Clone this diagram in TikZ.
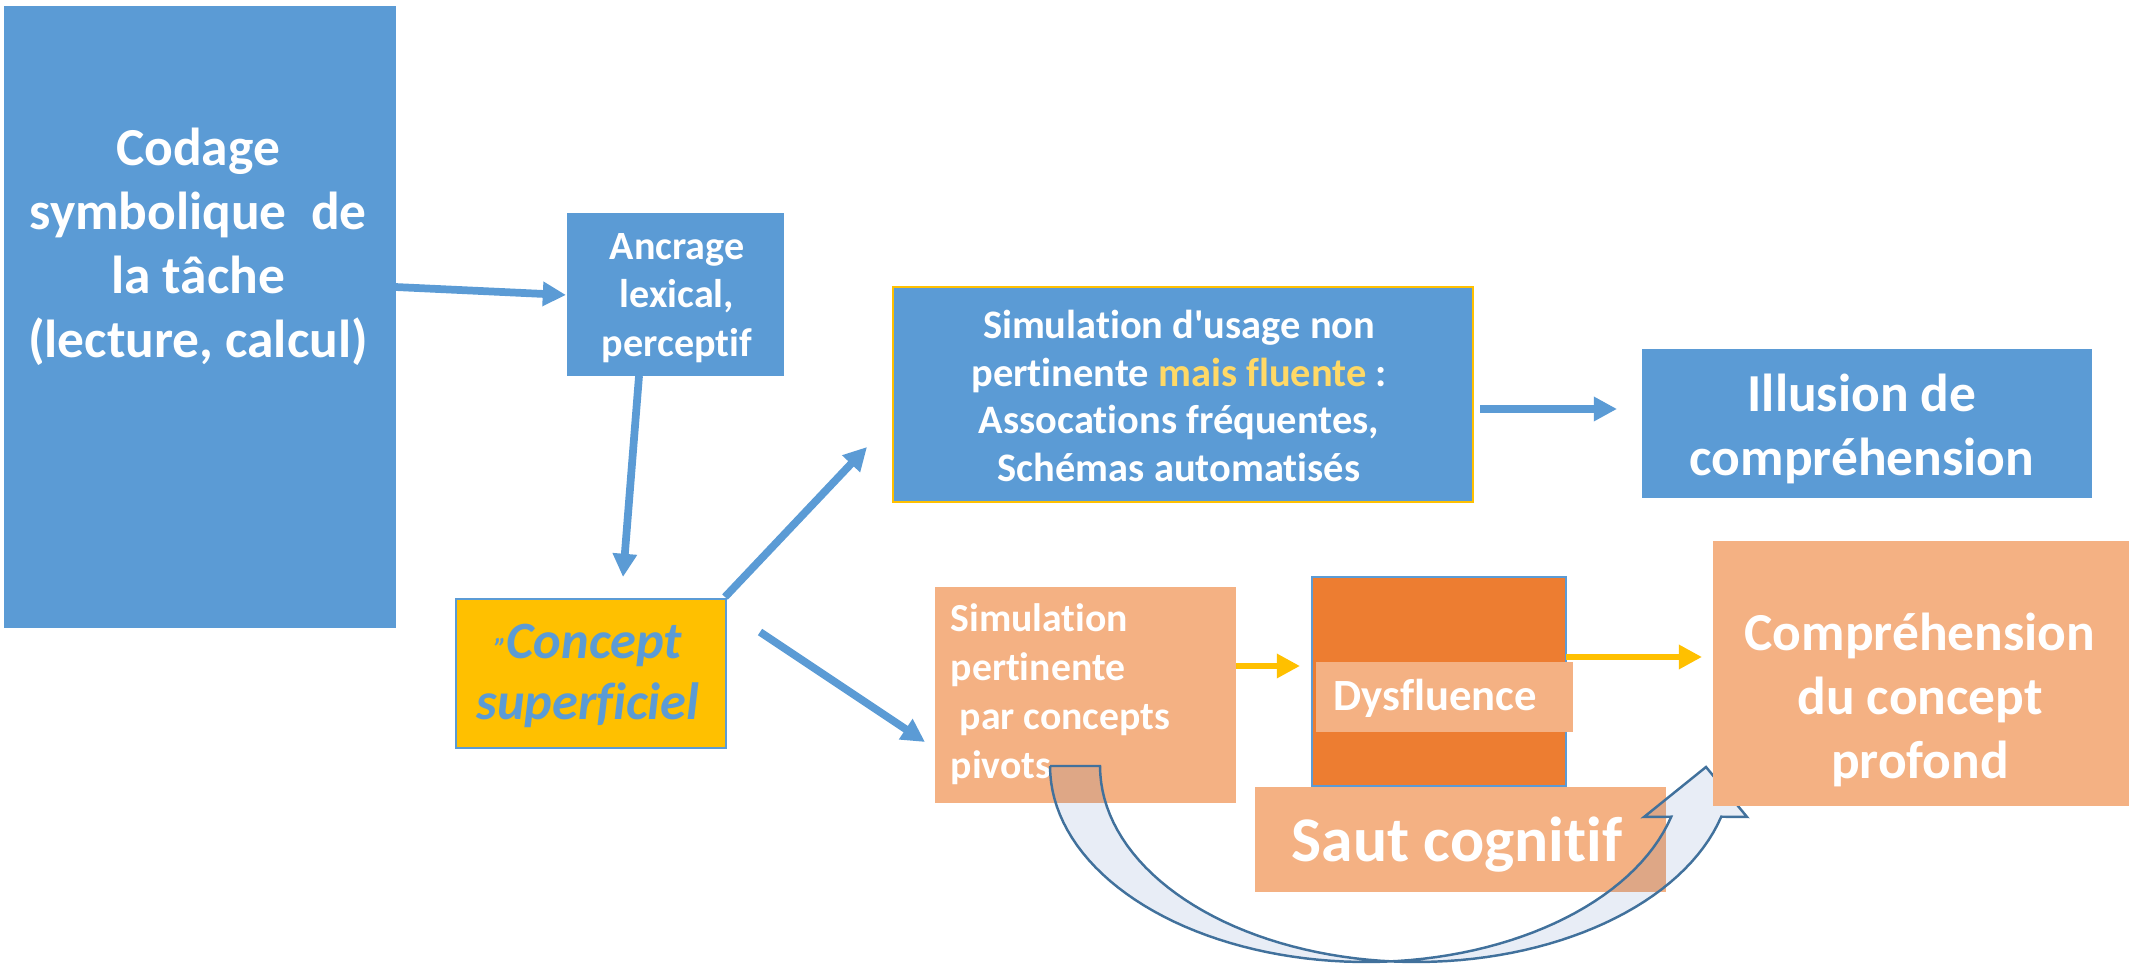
\documentclass[tikz,border=0pt]{standalone}
\usepackage{fontspec}
\setmainfont{Carlito}[Ligatures=NoCommon]
\usetikzlibrary{arrows.meta,fit}
\definecolor{cblue}{HTML}{5B9BD5}
\definecolor{corange}{HTML}{ED7D31}
\definecolor{ctan}{HTML}{F4B183}
\definecolor{cgold}{HTML}{FFC000}
\definecolor{cyell}{HTML}{FFD966}
\definecolor{cdark}{HTML}{41719C}
\definecolor{cband}{RGB}{30,80,170}
\begin{document}
\begin{tikzpicture}[x=0.01cm,y=-0.01cm,
  box/.style={rectangle, inner sep=0pt, outer sep=0pt},
  txt/.style={inner sep=0pt, text=white, align=center},
  barrow/.style={draw=cblue, line width=2.2pt, -{Triangle[length=6.6pt,width=6.6pt]}},
  yarrow/.style={draw=cgold, line width=1.9pt, -{Triangle[length=6.6pt,width=6.6pt]}},
  bigfont/.style={font={\bfseries\fontsize{15.2}{18.2}\selectfont}},
  midfont/.style={font={\bfseries\fontsize{11.4}{13.7}\selectfont}}
]
\useasboundingbox (0,0) rectangle (2134,968);

% left part
\node[box, fill=cblue, fit={(4,6) (396,628)}] (codage) {};
\node[txt, bigfont] (codageT) at (198,247) {Codage\\symbolique\ \ de\\la tâche\\(lecture, calcul)};

\node[box, fill=cblue, fit={(567,213) (784,376)}] (ancrage) {};
\node[txt, midfont] (ancrageT) at (677,298) {Ancrage\\lexical,\\perceptif};

\node[box, fill=cgold, draw=cblue, line width=0.6pt, fit={(456,599) (726,748)}] (concept) {};
\node[txt, text=cblue, font={\bfseries\itshape\fontsize{14.9}{17.4}\selectfont}] (conceptT) at (588,676)
  {{\fontsize{8}{9}\selectfont "}Concept\\superficiel};

\node[box, fill=cblue, draw=cgold, line width=0.8pt, fit={(893,287) (1473,502)}] (usage) {};
\node[txt, font={\bfseries\fontsize{11.5}{13.6}\selectfont}] (usageT) at (1179,396)
  {Simulation d\textquotesingle usage non\\pertinente \textcolor{cyell}{mais fluente} :\\Assocations fréquentes,\\Schémas automatisés};

\node[box, fill=cblue, fit={(1642,349) (2092,498)}] (illusion) {};
\node[txt, bigfont] (illusionT) at (1862,429) {Illusion de\\compréhension};

% lower part
\node[box, fill=ctan, fit={(935,587) (1236,803)}] (pert) {};
\node[txt, align=left, anchor=west, font={\bfseries\fontsize{11.3}{13.9}\selectfont}] (pertT) at (950,694)
  {Simulation\\pertinente\\\ par concepts\\pivots};

\node[box, fill=corange, draw=cblue, line width=0.6pt, fit={(1312,577) (1566,786)}] (dys) {};
\node[box, fill=ctan, fit={(1316,662) (1573,732)}] (dysL) {};
\node[txt, anchor=west, font={\bfseries\fontsize{12.7}{15}\selectfont}] (dysT) at (1333,698) {Dysfluence};

\node[box, fill=ctan, fit={(1255,787) (1666,892)}] (saut) {};
\node[txt, font={\bfseries\fontsize{18.1}{21}\selectfont}] (sautT) at (1457,845) {Saut cognitif};

% curved jump arrow
\path[fill=cband, fill opacity=0.1, draw=cdark, draw opacity=1, line width=0.7pt, line join=miter]
  (1050,766) -- (1100,766)
  -- plot[domain=180:15, samples=70, variable=\t] ({1416+316*cos(\t)}, {766+196*sin(\t)})
  -- (1747,817) -- (1706,767) -- (1644,817)
  -- plot[domain=15:180, samples=70, variable=\t] ({1366+316*cos(\t)}, {766+196*sin(\t)})
  -- cycle;

\node[box, fill=ctan, fit={(1713,541) (2129,806)}] (compr) {};
\node[txt, bigfont] (comprT) at (1920,700) {Compréhension\\du concept\\profond};

% connectors
\coordinate (p1) at (395,287);  \coordinate (p2) at (566,295);
\coordinate (p3) at (639,376);  \coordinate (p4) at (623,577);
\coordinate (p5) at (725,597);  \coordinate (p6) at (867,447);
\coordinate (p7) at (760,632);  \coordinate (p8) at (925,742);
\coordinate (p9) at (1480,409); \coordinate (p10) at (1617,409);
\coordinate (q1) at (1236,666); \coordinate (q2) at (1300,666);
\coordinate (q3) at (1566,657); \coordinate (q4) at (1702,657);

\draw[barrow] (p1) -- (p2);
\draw[barrow] (p3) -- (p4);
\draw[barrow] (p5) -- (p6);
\draw[barrow] (p7) -- (p8);
\draw[barrow] (p9) -- (p10);
\draw[yarrow] (q1) -- (q2);
\draw[yarrow] (q3) -- (q4);
\end{tikzpicture}
\end{document}
